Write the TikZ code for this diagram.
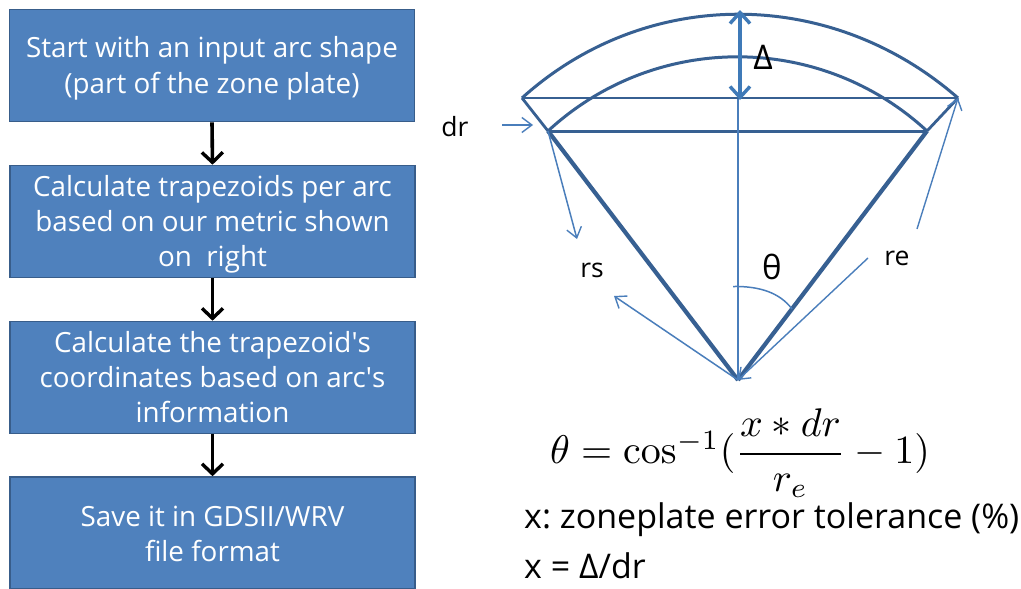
\documentclass[tikz,border=0pt]{standalone}
\usepackage{amsmath}
\usepackage[no-math]{fontspec}
\setmainfont{Open Sans}
\frenchspacing
\usetikzlibrary{arrows.meta}
\definecolor{boxfill}{HTML}{4F81BD}
\definecolor{boxline}{HTML}{385D8A}
\definecolor{geo}{HTML}{376092}
\definecolor{thincol}{HTML}{4A7EBB}
\definecolor{deltacol}{HTML}{3F7AB8}
\tikzset{
  x=1pt,y=-1pt,
  flowbox/.style={draw=boxline,line width=1.6pt,fill=boxfill,text=white,minimum width=405pt,minimum height=112pt,inner sep=0pt,align=center,font=\fontsize{27.8}{35}\selectfont},
  flowarrow/.style={black,line width=3.6pt,-{Straight Barb[length=10pt,width=21pt,line width=3.4pt]}},
  georay/.style={geo,line width=4.2pt,line join=round},
  geoline/.style={geo,line width=3pt},
  thinline/.style={draw=thincol,line width=1.5pt},
  thinarrow/.style={thinline,-{Straight Barb[length=10pt,width=15pt,line width=1.4pt]}},
  lab/.style={inner sep=0pt,text=black,font=\fontsize{26.5}{32}\selectfont},
}
\begin{document}
\begin{tikzpicture}
\useasboundingbox (0,0) rectangle (1021,589);
\fill[white] (0,0) rectangle (1021,589);
\node[flowbox] (b1) at (212,65.5) {\rule{0pt}{27pt}Start with an input arc shape\\[1pt](part of the zone plate)};
\node[flowbox] (b2) at (212.5,221.5) {\rule{0pt}{27pt}Calculate trapezoids per arc\\based on our metric shown\\on\ \ right};
\node[flowbox] (b3) at (212.5,377.5) {Calculate the trapezoid\textquotesingle s\\coordinates based on arc\textquotesingle s\\information};
\node[flowbox] (b4) at (212.5,533) {\rule{0pt}{23pt}Save it in GDSII/WRV\\file format};
\draw[flowarrow] (b1.south) -- (b2.north);
\draw[flowarrow] (b2.south) -- (b3.north);
\draw[flowarrow] (b3.south) -- (b4.north);

\coordinate (O) at (738,380);
\coordinate (OL) at (522,98);
\coordinate (OR) at (958,98);
\coordinate (IL) at (548,131);
\coordinate (IR) at (927,131);
\coordinate (TA) at (740,10);
\coordinate (TB) at (740,100);
\coordinate (MC) at (738,99);
\draw[geoline] (OL) .. controls (645.7,-13.7) and (830.3,-13.7) .. (OR);
\draw[geoline] (IL) .. controls (655,32.1) and (820,32.1) .. (IR);
\draw[geo,line width=2.6pt] (OL) -- (OR);
\draw[geoline] (IL) -- (IR);
\draw[geo,line width=2.8pt] (OL) -- (IL);
\draw[geo,line width=2.8pt] (OR) -- (IR);
\draw[georay] (O) -- (IL);
\draw[georay] (O) -- (IR);
\draw[thinline,line width=1.8pt] (MC) -- (O);
\draw[deltacol,line width=4pt,{Straight Barb[length=11pt,width=20pt,line width=3.4pt]}-{Straight Barb[length=11pt,width=20pt,line width=3.4pt]}] (TA) -- (TB);

\coordinate (drS) at (502,125);
\coordinate (drE) at (533,125);
\draw[thinarrow] (drS) -- (drE);
\coordinate (rsA) at (577,239);
\draw[thinarrow] (IL) -- (rsA);
\coordinate (rsB) at (614,296);
\draw[thinarrow] (O) -- (rsB);
\coordinate (reA) at (917,229);
\draw[thinarrow,line width=1.4pt] (reA) -- (OR);
\coordinate (reB) at (868,258);
\draw[thinarrow,line width=1.4pt] (reB) -- (O);
\coordinate (thA) at (733,286.5);
\coordinate (thB) at (792,309);
\draw[thinline] (thA) .. controls (760,286) and (780,293) .. (thB);

\node[lab] (dr) at (455,127) {dr};
\node[lab] (rs) at (592,270) {rs};
\node[lab] (re) at (897,258) {re};
\node[lab,font=\fontsize{33}{36}\selectfont] (th) at (772,267) {θ};
\node[lab,font=\fontsize{34}{36}\selectfont] (dl) at (763,57) {Δ};
\node[inner sep=0pt,text=black,scale=4.0] (eq) at (740,453) {$\theta=\cos^{-1}(\dfrac{x*dr}{r_e}-1)$};
\node[lab,anchor=west,font=\fontsize{34}{36}\selectfont] (t1) at (524,520) {x: zoneplate error tolerance (\%)};
\node[lab,anchor=west,font=\fontsize{34}{36}\selectfont] (t2) at (524,566) {x = Δ/dr};
\end{tikzpicture}
\end{document}
